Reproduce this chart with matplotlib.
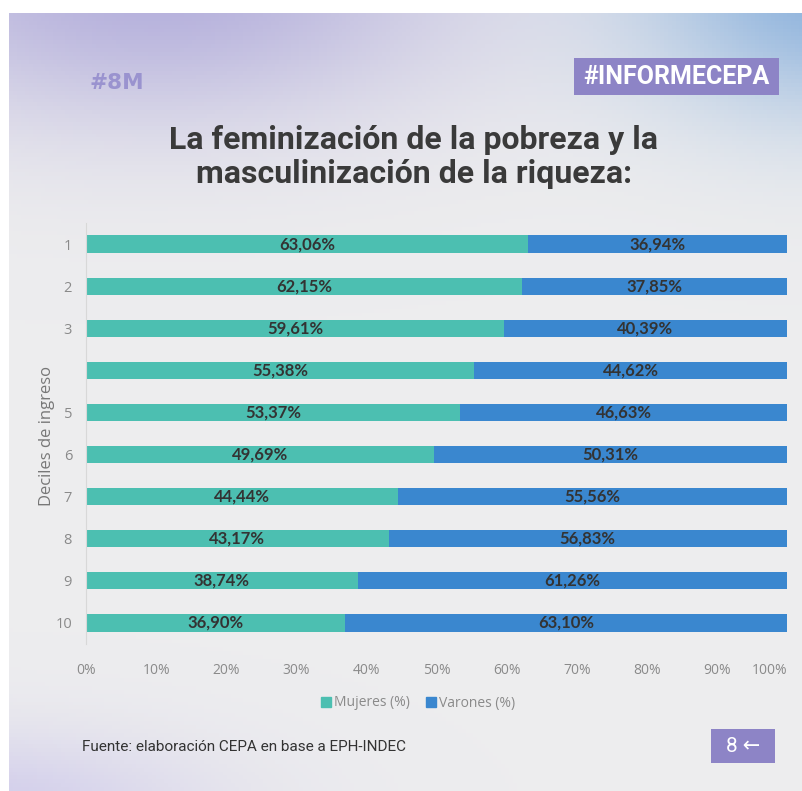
import numpy as np
import matplotlib
matplotlib.use("Agg")
import matplotlib.pyplot as plt
from matplotlib.patches import Rectangle, Patch

deciles = ["1", "2", "3", "", "5", "6", "7", "8", "9", "10"]
mujeres = [63.06, 62.15, 59.61, 55.38, 53.37, 49.69, 44.44, 43.17, 38.74, 36.90]
varones = [36.94, 37.85, 40.39, 44.62, 46.63, 50.31, 55.56, 56.83, 61.26, 63.10]
xticks = [0, 10, 20, 30, 40, 50, 60, 70, 80, 90, 100]
xtick_labels = ["0%", "10%", "20%", "30%", "40%", "50%", "60%", "70%", "80%", "90%", "100%"]

W, H = 803, 791
fig = plt.figure(figsize=(W / 100, H / 100), dpi=100)
fig.patch.set_facecolor("white")

# background panel with soft gradients
bg = fig.add_axes([9 / W, 0, 1 - 9 / W, 1 - 13 / H])
bg.set_axis_off()
h, w = 200, 200
yy, xx = np.mgrid[0:h, 0:w] / 200.0
img = np.ones((h, w, 3)) * np.array([0.93, 0.93, 0.935])
def blob(cx, cy, sx, sy, col, strength):
    global img
    g = np.exp(-(((xx - cx) / sx) ** 2 + ((yy - cy) / sy) ** 2)) * strength
    img = img * (1 - g[..., None]) + np.array(col) * g[..., None]
blob(0.18, -0.04, 0.40, 0.18, [0.70, 0.68, 0.86], 0.95)
blob(1.04, -0.04, 0.25, 0.17, [0.52, 0.68, 0.86], 0.9)
blob(-0.05, 1.02, 0.30, 0.10, [0.80, 0.78, 0.92], 0.8)
bg.imshow(np.clip(img, 0, 1), extent=[0, 1, 0, 1], aspect="auto", origin="upper")
bg.set_xlim(0, 1)
bg.set_ylim(0, 1)

ax = fig.add_axes([86 / W, 1 - 644 / H, 701 / W, 421 / H])
ax.set_facecolor("none")
y = np.arange(len(deciles))
teal = "#4cbfb1"
blue = "#3a87cf"
ax.barh(y, mujeres, height=0.41, color=teal, label="Mujeres (%)")
ax.barh(y, varones, left=mujeres, height=0.41, color=blue, label="Varones (%)")
lab_font = dict(family="Lato", weight="bold", size=12, color="#333333")
for i in range(len(deciles)):
    ax.text(mujeres[i] / 2, y[i], f"{mujeres[i]:.2f}%".replace(".", ","),
            ha="center", va="center", **lab_font)
    ax.text(mujeres[i] + varones[i] / 2, y[i], f"{varones[i]:.2f}%".replace(".", ","),
            ha="center", va="center", **lab_font)
ax.set_xlim(0, 100)
ax.set_ylim(len(deciles) - 0.5, -0.5)
ax.set_xticks(xticks)
ax.set_xticklabels(xtick_labels, family="Open Sans", size=10, color="#8a8a8a")
ax.get_xticklabels()[-1].set_horizontalalignment("right")
ax.get_xticklabels()[-1].set_x(100)
ax.set_yticks(y)
ax.set_yticklabels(deciles, family="Open Sans", size=10.5, color="#8a8a8a")
ax.tick_params(axis="x", length=0, pad=14)
ax.tick_params(axis="y", length=0, pad=10)
for s in ["top", "right", "bottom"]:
    ax.spines[s].set_visible(False)
ax.spines["left"].set_color("#d8d8d8")
ax.spines["left"].set_linewidth(0.8)
ax.set_ylabel("Deciles de ingreso", family="Open Sans", size=12, color="#777777", labelpad=0)
ax.yaxis.label.set_position((0, (644 - 436) / 421))

handles = [Patch(color=teal, label="Mujeres (%)"), Patch(color=blue, label="Varones (%)")]
leg = fig.legend(handles=handles, loc="center", bbox_to_anchor=(418 / W, 1 - 703 / H), ncol=2,
                 frameon=False, handlelength=0.7, handleheight=0.7, handletextpad=0.2,
                 columnspacing=1.2, prop=dict(family="Open Sans", size=10))
for t in leg.get_texts():
    t.set_color("#8a8a8a")

# header
fig.text(90 / W, 1 - 83 / H, "#8M", family="DejaVu Sans", weight="bold", size=15.5, color="#9a93cf",
         ha="left", va="center")
fig.patches.append(Rectangle((574 / W, 1 - 95 / H), 205 / W, 37 / H, transform=fig.transFigure,
                             facecolor="#8d84c6", edgecolor="none"))
fig.text(676.5 / W, 1 - 77 / H, "#INFORMECEPA", family="Roboto", weight="bold", size=18,
         color="white", ha="center", va="center")
fig.text(414 / W, 1 - 157 / H, "La feminización de la pobreza y la\nmasculinización de la riqueza:",
         family="Roboto", weight="bold", size=23, color="#3a3a3a", ha="center", va="center",
         linespacing=1.14)

# footer
fig.text(82 / W, 1 - 747 / H, "Fuente: elaboración CEPA en base a EPH-INDEC", family="Roboto",
         size=11, color="#333333", ha="left", va="center")
fig.patches.append(Rectangle((711 / W, 1 - 763 / H), 64 / W, 34 / H, transform=fig.transFigure,
                             facecolor="#8d84c6", edgecolor="none"))
fig.text(743 / W, 1 - 746 / H, "8 ←", family=["Roboto", "DejaVu Sans"], size=15,
         color="white", ha="center", va="center")

fig.savefig("out.png", dpi=100, facecolor=fig.get_facecolor())
